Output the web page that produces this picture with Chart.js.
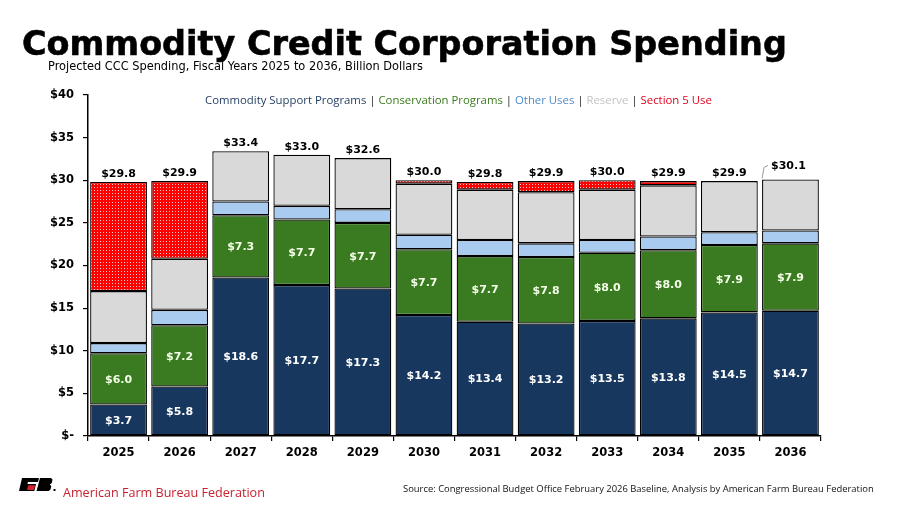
<!DOCTYPE html>
<html>
<head>
<meta charset="utf-8">
<script src="https://cdn.jsdelivr.net/npm/chart.js@4.4.1/dist/chart.umd.min.js"></script>
<style>
  html, body { margin:0; padding:0; background:#fff; }
  #wrap { position:relative; width:900px; height:506px; overflow:hidden; background:#fff; }
  #c { position:absolute; left:0; top:0; }
  .t { position:absolute; white-space:nowrap; line-height:1; }
  #title { left:22px; top:24px; font:bold 31px "DejaVu Sans", Verdana, sans-serif; color:#000; -webkit-text-stroke:0.6px #000; }
  #subtitle { left:48px; top:59px; font:11px "DejaVu Sans", Verdana, sans-serif; color:#000; }
  #legend { left:205px; top:92px; font:11.5px "Open Sans", sans-serif; color:#222; }
  #org { left:63px; top:484px; font:12px "Open Sans", sans-serif; color:#c8202f; }
  #source { left:403px; top:482px; font:9px "Open Sans", sans-serif; color:#111; }
  #logo { position:absolute; left:19px; top:478px; }
</style>
</head>
<body>
<div id="wrap">
  <canvas id="c" width="900" height="506"></canvas>
  <div class="t" id="title" data-w="765">Commodity Credit Corporation Spending</div>
  <div class="t" id="subtitle" data-w="375">Projected CCC Spending, Fiscal Years 2025 to 2036, Billion Dollars</div>
  <div class="t" id="legend" data-w="507"><span style="color:#1f3a5f">Commodity Support Programs</span> | <span style="color:#3a7a1e">Conservation Programs</span> | <span style="color:#4f8ac9">Other Uses</span> | <span style="color:#c4c4c4">Reserve</span> | <span style="color:#e3001b">Section 5 Use</span></div>
  <svg id="logo" width="38" height="14" viewBox="0 0 38 14">
    <polygon points="3,0 20,0 19,4 9,4 8.4,6 17,6 15.3,13 0,13" fill="#000"/>
    <polygon points="9.2,7.2 16.2,7.2 14.8,12 8,12" fill="#d6202a"/>
    <polygon points="21,0 32,0 33.5,1.5 32.8,5 30.8,6.5 32.3,8 31.5,11.5 29.5,13 17.5,13" fill="#000"/>
    <rect x="34.5" y="11" width="2" height="2" fill="#000"/>
  </svg>
  <div class="t" id="org" data-w="202">American Farm Bureau Federation</div>
  <div class="t" id="source" data-w="471">Source: Congressional Budget Office February 2026 Baseline, Analysis by American Farm Bureau Federation</div>
</div>
<script>
// ---- Data (billion dollars) ----
const years = ['2025','2026','2027','2028','2029','2030','2031','2032','2033','2034','2035','2036'];
const commodity    = [3.7, 5.8, 18.6, 17.7, 17.3, 14.2, 13.4, 13.2, 13.5, 13.8, 14.5, 14.7];
const conservation = [6.0, 7.2, 7.3, 7.7, 7.7, 7.7, 7.7, 7.8, 8.0, 8.0, 7.9, 7.9];
const otherUses    = [1.2, 1.8, 1.6, 1.6, 1.6, 1.7, 1.9, 1.6, 1.5, 1.6, 1.5, 1.5];
const reserve      = [6.1, 6.0, 5.9, 6.0, 6.0, 6.0, 5.9, 6.0, 5.9, 6.0, 6.0, 6.0];
const section5     = [12.8, 9.1, null, null, null, 0.4, 0.9, 1.3, 1.1, 0.5, null, null];
const totals       = [29.8, 29.9, 33.4, 33.0, 32.6, 30.0, 29.8, 29.9, 30.0, 29.9, 29.9, 30.1];
const yTicks       = [0, 5, 10, 15, 20, 25, 30, 35, 40];

// fit text widths
document.querySelectorAll('.t[data-w]').forEach(el => {
  const target = +el.dataset.w;
  const fs = parseFloat(getComputedStyle(el).fontSize);
  const w = el.getBoundingClientRect().width;
  if (w > 0) el.style.fontSize = (fs * target / w).toFixed(2) + 'px';
});

// dotted red pattern
function dotPattern() {
  const p = document.createElement('canvas');
  p.width = 3; p.height = 3;
  const g = p.getContext('2d');
  g.fillStyle = '#ff0000'; g.fillRect(0, 0, 3, 3);
  g.fillStyle = '#ffc8c8'; g.fillRect(1, 1, 1, 1);
  return g.createPattern(p, 'repeat');
}
const ctx = document.getElementById('c').getContext('2d');
const redPat = dotPattern();

const labelPlugin = {
  id: 'valueLabels',
  afterDatasetsDraw(chart) {
    const c = chart.ctx;
    c.save();
    c.font = 'bold 11px "DejaVu Sans", Verdana, sans-serif';
    c.textAlign = 'center';
    c.textBaseline = 'middle';
    // inner labels
    [0, 1].forEach(di => {
      const meta = chart.getDatasetMeta(di);
      const vals = chart.data.datasets[di].data;
      meta.data.forEach((el, i) => {
        if (vals[i] == null) return;
        c.fillStyle = di === 0 ? '#ffffff' : '#f4ffe8';
        c.fillText('$' + vals[i].toFixed(1), el.x, (el.y + el.base) / 2 + 1);
      });
    });
    // totals
    c.fillStyle = '#000';
    years.forEach((y, i) => {
      let top = Infinity, x = 0, left = 0;
      chart.data.datasets.forEach((ds, di) => {
        if (ds.data[i] == null) return;
        const el = chart.getDatasetMeta(di).data[i];
        if (el.y < top) { top = el.y; x = el.x; left = el.x - el.width / 2; }
      });
      if (i === years.length - 1) {
        c.fillText('$' + totals[i].toFixed(1), x - 2, top - 13);
        c.strokeStyle = '#999'; c.lineWidth = 1;
        c.beginPath();
        c.moveTo(left, top - 1); c.lineTo(left + 2, top - 12); c.lineTo(left + 6, top - 14);
        c.stroke();
      } else {
        c.fillText('$' + totals[i].toFixed(1), x, top - 8);
      }
    });
    c.restore();
  }
};

const common = { borderColor: '#000', borderWidth: 1.3, borderSkipped: false,
                 barPercentage: 0.93, categoryPercentage: 1.0 };

new Chart(ctx, {
  type: 'bar',
  data: {
    labels: years,
    datasets: [
      { label: 'Commodity Support Programs', data: commodity, backgroundColor: '#17375e', ...common },
      { label: 'Conservation Programs', data: conservation, backgroundColor: '#3a7b22', ...common },
      { label: 'Other Uses', data: otherUses, backgroundColor: '#a9cbef', ...common },
      { label: 'Reserve', data: reserve, backgroundColor: '#d9d9d9', ...common },
      { label: 'Section 5 Use', data: section5, backgroundColor: redPat, ...common }
    ]
  },
  options: {
    responsive: false,
    animation: false,
    devicePixelRatio: 1,
    layout: { padding: { top: 95, right: 79, bottom: 40, left: 0 } },
    plugins: { legend: { display: false }, tooltip: { enabled: false }, title: { display: false } },
    scales: {
      x: {
        stacked: true,
        grid: { display: true, drawOnChartArea: false, offset: true, tickLength: 5, color: '#000', lineWidth: 1.2 },
        border: { display: true, color: '#000', width: 1.5 },
        ticks: { color: '#000', font: { family: '"DejaVu Sans", Verdana, sans-serif', size: 11.5, weight: 'bold' }, padding: 5 },
        afterFit: s => { s.height = 30; }
      },
      y: {
        stacked: true,
        min: 0, max: 40,
        afterBuildTicks: s => { s.ticks = yTicks.map(v => ({ value: v })); },
        grid: { display: true, drawOnChartArea: false, tickLength: 5, color: '#000', lineWidth: 1.2 },
        border: { display: true, color: '#000', width: 1.5 },
        ticks: { color: '#000', padding: 9,
                 font: { family: '"DejaVu Sans", Verdana, sans-serif', size: 11.5, weight: 'bold' },
                 callback: v => v === 0 ? '$-' : '$' + v },
        afterFit: s => { s.width = 88; }
      }
    }
  },
  plugins: [labelPlugin]
});
</script>
</body>
</html>
